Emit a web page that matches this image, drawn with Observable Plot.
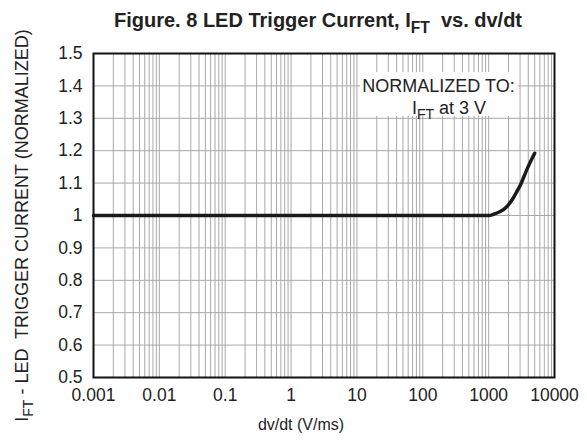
<!DOCTYPE html>
<html><head><meta charset="utf-8">
<script src="https://cdn.jsdelivr.net/npm/d3@7"></script>
<script src="https://cdn.jsdelivr.net/npm/@observablehq/plot@0.6"></script>
<style>
html,body{margin:0;padding:0;background:#fff;}
#chart svg{display:block;overflow:visible;}
</style></head><body><div id="chart"></div>
<script>
// Data
const dvdt    = [0.001, 0.01, 0.1, 1, 10, 100, 1000, 1200, 1500, 1900, 2300, 2700, 3100, 3400, 4050, 5000];
const iftNorm = [1.0,   1.0,  1.0, 1.0, 1.0, 1.0, 1.0, 1.004, 1.012, 1.028, 1.05, 1.075, 1.098, 1.118, 1.154, 1.192];
const xTicks = [0.001, 0.01, 0.1, 1, 10, 100, 1000, 10000];
const xTickLabels = ["0.001", "0.01", "0.1", "1", "10", "100", "1000", "10000"];
const yTicks = [0.5, 0.6, 0.7, 0.8, 0.9, 1, 1.1, 1.2, 1.3, 1.4, 1.5];
const yTickLabels = ["0.5", "0.6", "0.7", "0.8", "0.9", "1", "1.1", "1.2", "1.3", "1.4", "1.5"];
const gridMultipliers = [1, 2, 3, 4, 5, 6, 7, 8, 9];
const gridDecades = [-3, -2, -1, 0, 1, 2, 3];
const noteLines = ["NORMALIZED TO:", "IFT at 3 V"];
const noteX = [173, 250];
const noteY = [1.4, 1.332];
const noteBox = [{x1: 11.3, x2: 2800, y1: 1.306, y2: 1.441}];

const gridX = [];
gridDecades.forEach(d => gridMultipliers.forEach(m => gridX.push(+(m + "e" + d))));
gridX.push(10000);

const data = dvdt.map((x, i) => ({x, y: iftNorm[i]}));
const notes = noteLines.map((t, i) => ({t, x: noteX[i], y: noteY[i]}));

const FONT = "'Liberation Sans', Arial, Helvetica, sans-serif";

const chart = Plot.plot({
  width: 587, height: 442,
  marginLeft: 93, marginRight: 33, marginTop: 53, marginBottom: 65,
  style: {fontFamily: FONT, background: "transparent", color: "#222", overflow: "visible"},
  x: {type: "log", domain: [0.001, 10000]},
  y: {domain: [0.5, 1.5]},
  marks: [
    Plot.ruleX(gridX, {stroke: "#a8a8a8", strokeWidth: 1}),
    Plot.ruleY(yTicks, {stroke: "#a8a8a8", strokeWidth: 1}),
    Plot.rect(noteBox, {x1: "x1", x2: "x2", y1: "y1", y2: "y2", fill: "white"}),
    Plot.text(notes, {x: "x", y: "y", text: "t", fontSize: 18, fill: "#222"}),
    Plot.line(data, {x: "x", y: "y", stroke: "#1a1a1a", strokeWidth: 3.5, curve: "monotone-x"}),
    Plot.frame({stroke: "#111", strokeWidth: 2}),
    Plot.axisX(xTicks, {tickSize: 0, tickPadding: 11, fontSize: 17.5, label: null,
      tickFormat: d => xTickLabels[xTicks.indexOf(d)]}),
    Plot.axisY(yTicks, {tickSize: 0, tickPadding: 11, fontSize: 17.5, label: null,
      tickFormat: d => yTickLabels[yTicks.indexOf(d)]})
  ]
});
document.getElementById("chart").appendChild(chart);

function richText(sel, parts, size) {
  parts.forEach(([s, sub], i) => {
    const t = sel.append("tspan").text(s);
    if (sub) t.attr("font-size", size * 0.78).attr("dy", size * 0.28);
    else if (i > 0 && parts[i - 1][1]) t.attr("dy", -size * 0.28);
  });
}

const svg = d3.select(chart);

// annotation subscript
svg.selectAll("text").filter(function() { return this.textContent === "IFT at 3 V"; })
  .each(function() {
    const s = d3.select(this);
    s.text(null);
    richText(s, [["I", false], ["FT", true], [" at 3 V", false]], 18);
  });

// title
const title = svg.append("text")
  .attr("x", 318).attr("y", 27)
  .attr("text-anchor", "middle")
  .attr("font-family", FONT).attr("font-size", 20).attr("font-weight", "bold")
  .attr("fill", "#222").style("white-space", "pre");
richText(title, [["Figure. 8 LED Trigger Current, I", false], ["FT", true], ["  vs. dv/dt", false]], 20);

// y label
const ylab = svg.append("text")
  .attr("transform", "translate(28,225.5) rotate(-90)")
  .attr("text-anchor", "middle")
  .attr("font-family", FONT).attr("font-size", 18)
  .attr("fill", "#222").style("white-space", "pre");
richText(ylab, [["I", false], ["FT", true], [" - LED  TRIGGER CURRENT (NORMALIZED)", false]], 18);

// x label
svg.append("text")
  .attr("x", 301).attr("y", 430)
  .attr("text-anchor", "middle")
  .attr("font-family", FONT).attr("font-size", 16)
  .attr("fill", "#222")
  .text("dv/dt (V/ms)");
</script>
</body></html>
